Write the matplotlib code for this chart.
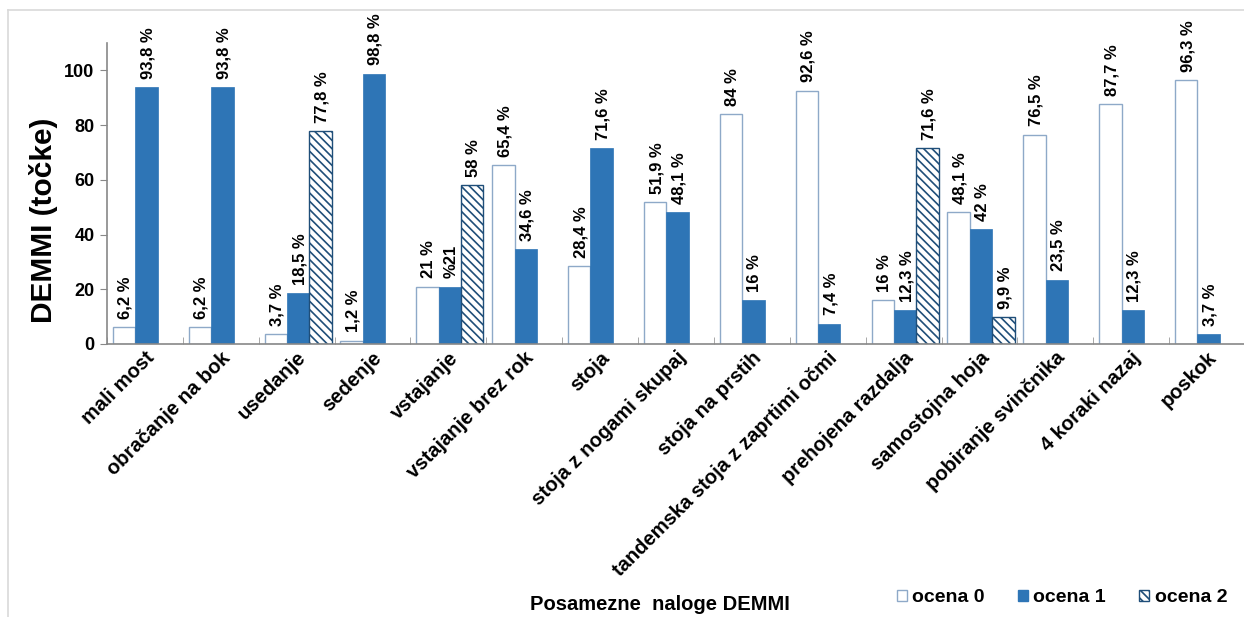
import matplotlib
matplotlib.use('Agg')
import matplotlib.pyplot as plt
import numpy as np
from matplotlib.lines import Line2D

plt.rcParams['font.family'] = ['Liberation Sans', 'DejaVu Sans']
plt.rcParams['font.weight'] = 'bold'
plt.rcParams['hatch.color'] = '#1F4E79'
plt.rcParams['hatch.linewidth'] = 1.2

naloge = ['mali most', 'obračanje na bok', 'usedanje', 'sedenje', 'vstajanje',
          'vstajanje brez rok', 'stoja', 'stoja z nogami skupaj', 'stoja na prstih',
          'tandemska stoja z zaprtimi očmi', 'prehojena razdalja', 'samostojna hoja',
          'pobiranje svinčnika', '4 koraki nazaj', 'poskok']
ocena0 = [6.2, 6.2, 3.7, 1.2, 21, 65.4, 28.4, 51.9, 84, 92.6, 16, 48.1, 76.5, 87.7, 96.3]
ocena1 = [93.8, 93.8, 18.5, 98.8, 21, 34.6, 71.6, 48.1, 16, 7.4, 12.3, 42, 23.5, 12.3, 3.7]
ocena2 = [None, None, 77.8, None, 58, None, None, None, None, None, 71.6, 9.9, None, None, None]
labels0 = ['6,2 %', '6,2 %', '3,7 %', '1,2 %', '21 %', '65,4 %', '28,4 %', '51,9 %',
           '84 %', '92,6 %', '16 %', '48,1 %', '76,5 %', '87,7 %', '96,3 %']
labels1 = ['93,8 %', '93,8 %', '18,5 %', '98,8 %', '%21', '34,6 %', '71,6 %', '48,1 %',
           '16 %', '7,4 %', '12,3 %', '42 %', '23,5 %', '12,3 %', '3,7 %']
labels2 = [None, None, '77,8 %', None, '58 %', None, None, None, None, None,
           '71,6 %', '9,9 %', None, None, None]

blue = '#2E75B6'
x = np.arange(len(naloge))
w = 0.295

fig = plt.figure(figsize=(12.44, 6.17), dpi=100)
ax = fig.add_axes([107/1244, 1-344/617, 1138/1244, 301/617])

series = [
    (ocena0, labels0, dict(color='white', edgecolor='#8EA9C8', linewidth=1.0), -0.275),
    (ocena1, labels1, dict(color=blue, edgecolor=blue, linewidth=0.5), 0.02),
    (ocena2, labels2, dict(color='white', edgecolor='#1F4E79', linewidth=1.0, hatch='\\\\\\\\'), 0.315),
]
for vals, labs, style, off in series:
    for i, (v, lab) in enumerate(zip(vals, labs)):
        if v is None:
            continue
        ax.bar(x[i] + off, v, w, **style)
        ax.annotate(lab, (x[i] + off, v), xytext=(1, 6), textcoords='offset points',
                    rotation=90, ha='center', va='bottom', fontsize=12, fontweight='bold')

ax.set_xlim(-0.5, len(naloge) - 0.5)
ax.set_ylim(0, 110)
ax.set_yticks([0, 20, 40, 60, 80, 100])
ax.tick_params(axis='y', direction='out', length=5, color='#888888', labelsize=13, pad=4)
ax.set_xticks(x)
ax.set_xticklabels(naloge, rotation=45, ha='right', rotation_mode='anchor', fontsize=14.5)
ax.tick_params(axis='x', length=0, pad=3)
ax.set_xticks(np.arange(len(naloge) + 1) - 0.5, minor=True)
ax.tick_params(axis='x', which='minor', direction='in', length=5, color='#999999')
for s in ['top', 'right']:
    ax.spines[s].set_visible(False)
for s in ['left', 'bottom']:
    ax.spines[s].set_color('#888888')
    ax.spines[s].set_linewidth(1.2)

ax.set_ylabel('DEMMI (točke)', fontsize=21.5, fontweight='bold')
ax.yaxis.set_label_coords(-0.043, 0.41)
fig.text(660/1244, 1-605/617, 'Posamezne  naloge DEMMI', ha='center', va='center',
         fontsize=14.5, fontweight='bold')

handles = [plt.Rectangle((0, 0), 1, 1, facecolor='white', edgecolor='#8EA9C8'),
           plt.Rectangle((0, 0), 1, 1, facecolor=blue, edgecolor=blue),
           plt.Rectangle((0, 0), 1, 1, facecolor='white', edgecolor='#1F4E79', hatch='\\\\\\\\')]
fig.legend(handles, ['ocena 0', 'ocena 1', 'ocena 2'], loc='center',
           bbox_to_anchor=(1062/1244, 1-598/617), ncol=3, frameon=False,
           prop={'size': 14, 'weight': 'bold'}, handlelength=0.5, handleheight=0.5,
           handletextpad=0.3, columnspacing=1.7)

# light frame around chart area
fig.add_artist(Line2D([8/1244, 1], [1-10/617, 1-10/617], color='#D9D9D9', lw=1.2))
fig.add_artist(Line2D([8/1244, 8/1244], [0, 1-10/617], color='#D9D9D9', lw=1.2))

fig.savefig('out.png', dpi=100)
